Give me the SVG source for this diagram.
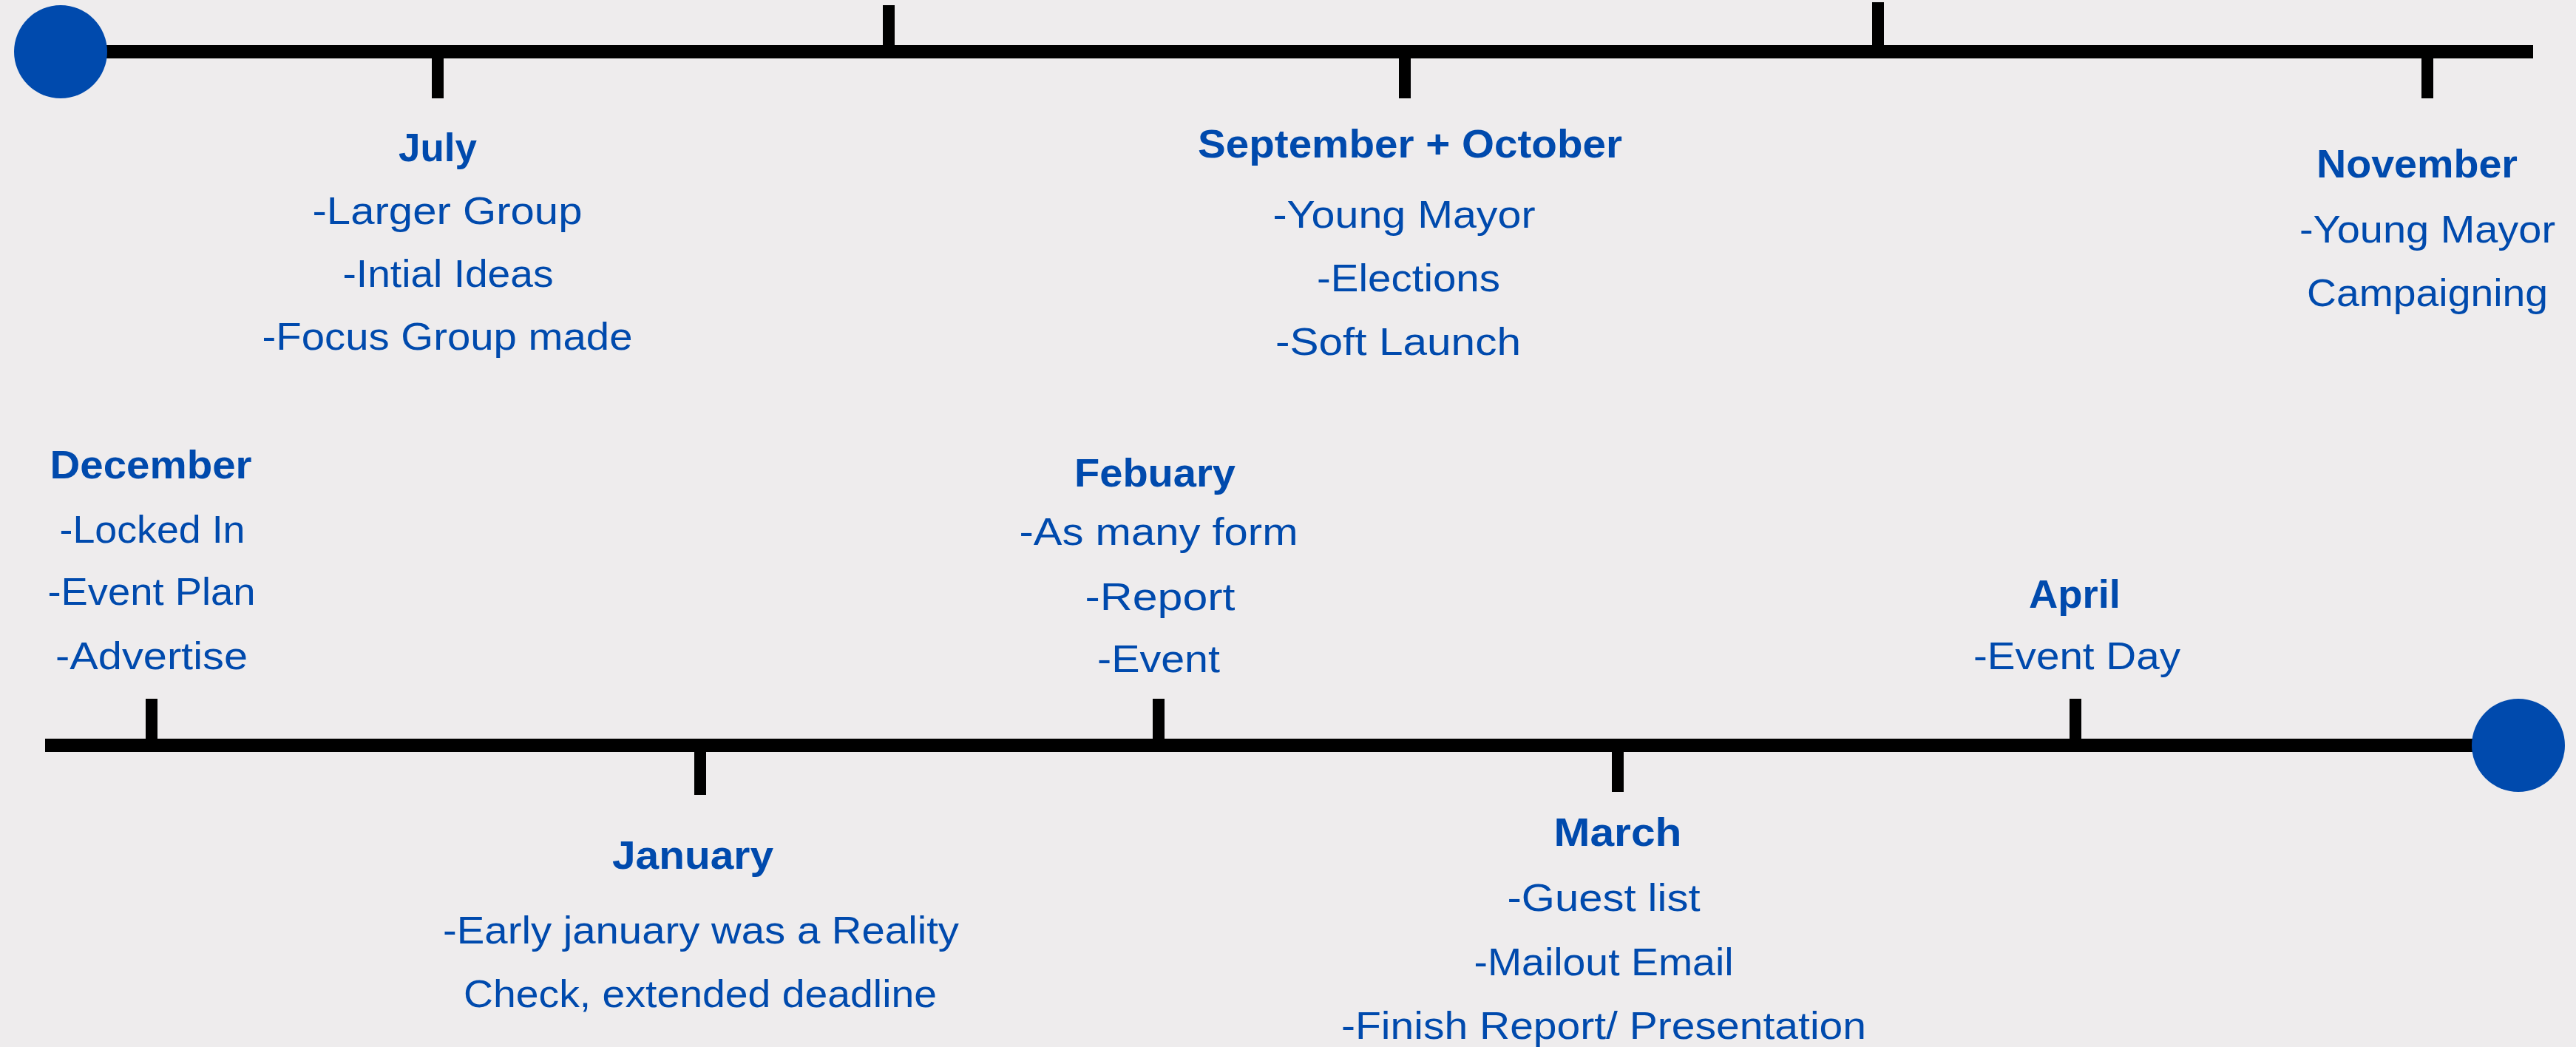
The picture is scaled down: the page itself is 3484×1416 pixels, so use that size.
<svg xmlns="http://www.w3.org/2000/svg" width="3484" height="1416" viewBox="0 0 3484 1416">
<style>
.bg{fill:#eeeced}
.axis{stroke:#000;stroke-width:18;fill:none}
.tick{stroke:#000;stroke-width:16;fill:none}
.dot{fill:#004aad}
.h{font-family:"Liberation Sans",Arial,sans-serif;font-weight:bold;font-size:54px;fill:#004aad;text-anchor:middle}
.t{font-family:"Liberation Sans",Arial,sans-serif;font-size:52px;fill:#004aad;text-anchor:middle}
</style>
<rect class="bg" x="0" y="0" width="3484" height="1416"/>
<g id="connectors">
<line class="axis" x1="82" y1="70" x2="3426" y2="70"/>
<line class="axis" x1="61" y1="1008" x2="3406" y2="1008"/>
<line class="tick" x1="592" y1="70" x2="592" y2="133"/>
<line class="tick" x1="1202" y1="7" x2="1202" y2="70"/>
<line class="tick" x1="1900" y1="70" x2="1900" y2="133"/>
<line class="tick" x1="2540" y1="3" x2="2540" y2="70"/>
<line class="tick" x1="3283" y1="70" x2="3283" y2="133"/>
<line class="tick" x1="205" y1="945" x2="205" y2="1008"/>
<line class="tick" x1="947" y1="1008" x2="947" y2="1075"/>
<line class="tick" x1="1567" y1="945" x2="1567" y2="1008"/>
<line class="tick" x1="2188" y1="1008" x2="2188" y2="1071"/>
<line class="tick" x1="2807" y1="945" x2="2807" y2="1008"/>
</g>
<g id="start"><circle class="dot" cx="82" cy="70" r="63"/></g>
<g id="end"><circle class="dot" cx="3406" cy="1008" r="63"/></g>
<g id="july">
<text class="h" x="592" y="218" textLength="106" lengthAdjust="spacingAndGlyphs">July</text>
<text class="t" x="605" y="303" textLength="365" lengthAdjust="spacingAndGlyphs">-Larger Group</text>
<text class="t" x="606" y="388" textLength="285" lengthAdjust="spacingAndGlyphs">-Intial Ideas</text>
<text class="t" x="605" y="473" textLength="501" lengthAdjust="spacingAndGlyphs">-Focus Group made</text>
</g>
<g id="sepoct">
<text class="h" x="1907" y="213" textLength="574" lengthAdjust="spacingAndGlyphs">September + October</text>
<text class="t" x="1899" y="308" textLength="355" lengthAdjust="spacingAndGlyphs">-Young Mayor</text>
<text class="t" x="1905" y="394" textLength="248" lengthAdjust="spacingAndGlyphs">-Elections</text>
<text class="t" x="1891" y="480" textLength="332" lengthAdjust="spacingAndGlyphs">-Soft Launch</text>
</g>
<g id="november">
<text class="h" x="3269" y="240" textLength="272" lengthAdjust="spacingAndGlyphs">November</text>
<text class="t" x="3283" y="328" textLength="346" lengthAdjust="spacingAndGlyphs">-Young Mayor</text>
<text class="t" x="3283" y="414" textLength="326" lengthAdjust="spacingAndGlyphs">Campaigning</text>
</g>
<g id="december">
<text class="h" x="204" y="647" textLength="273" lengthAdjust="spacingAndGlyphs">December</text>
<text class="t" x="206" y="734" textLength="251" lengthAdjust="spacingAndGlyphs">-Locked In</text>
<text class="t" x="205" y="818" textLength="281" lengthAdjust="spacingAndGlyphs">-Event Plan</text>
<text class="t" x="205" y="905" textLength="260" lengthAdjust="spacingAndGlyphs">-Advertise</text>
</g>
<g id="january">
<text class="h" x="937" y="1175" textLength="218" lengthAdjust="spacingAndGlyphs">January</text>
<text class="t" x="948" y="1276" textLength="698" lengthAdjust="spacingAndGlyphs">-Early january was a Reality</text>
<text class="t" x="947" y="1362" textLength="640" lengthAdjust="spacingAndGlyphs">Check, extended deadline</text>
</g>
<g id="febuary">
<text class="h" x="1562" y="658" textLength="218" lengthAdjust="spacingAndGlyphs">Febuary</text>
<text class="t" x="1567" y="737" textLength="377" lengthAdjust="spacingAndGlyphs">-As many form</text>
<text class="t" x="1569" y="825" textLength="203" lengthAdjust="spacingAndGlyphs">-Report</text>
<text class="t" x="1567" y="909" textLength="166" lengthAdjust="spacingAndGlyphs">-Event</text>
</g>
<g id="march">
<text class="h" x="2188" y="1144" textLength="173" lengthAdjust="spacingAndGlyphs">March</text>
<text class="t" x="2169" y="1232" textLength="261" lengthAdjust="spacingAndGlyphs">-Guest list</text>
<text class="t" x="2169" y="1319" textLength="351" lengthAdjust="spacingAndGlyphs">-Mailout Email</text>
<text class="t" x="2169" y="1405" textLength="710" lengthAdjust="spacingAndGlyphs">-Finish Report/ Presentation</text>
</g>
<g id="april">
<text class="h" x="2806" y="822" textLength="124" lengthAdjust="spacingAndGlyphs">April</text>
<text class="t" x="2809" y="905" textLength="280" lengthAdjust="spacingAndGlyphs">-Event Day</text>
</g>
</svg>
